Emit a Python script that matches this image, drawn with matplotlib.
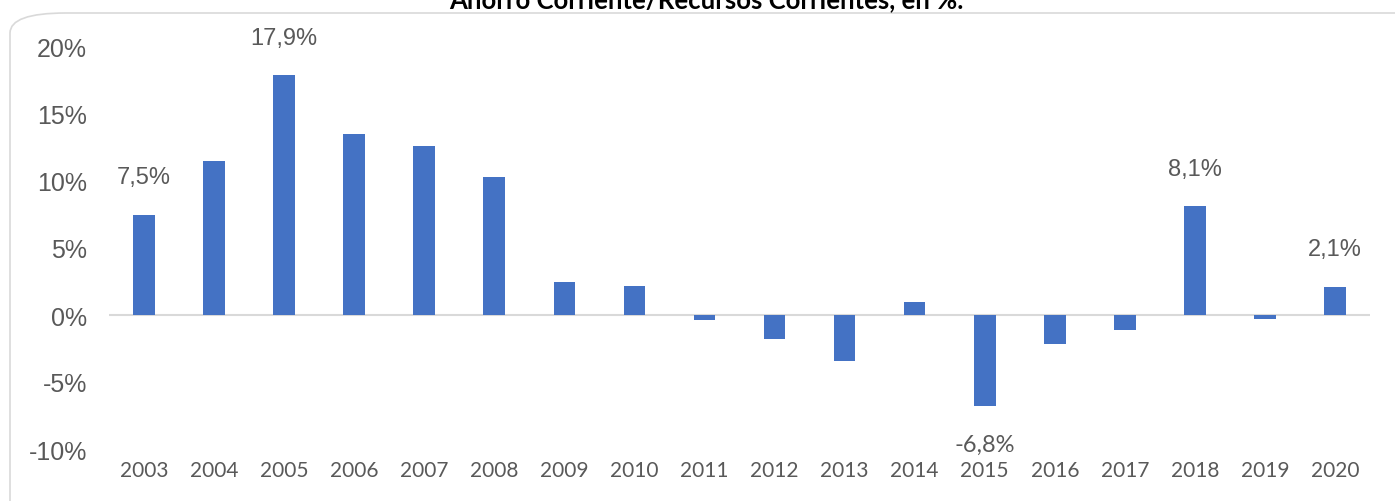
import matplotlib
matplotlib.use('Agg')
from matplotlib import pyplot as plt
from matplotlib.patches import FancyBboxPatch

years = ['2003', '2004', '2005', '2006', '2007', '2008', '2009', '2010', '2011',
         '2012', '2013', '2014', '2015', '2016', '2017', '2018', '2019', '2020']
ratio = [7.5, 11.5, 17.9, 13.5, 12.6, 10.3, 2.5, 2.2, -0.4,
         -1.8, -3.4, 1.0, -6.8, -2.2, -1.1, 8.1, -0.3, 2.1]
labelled = {'2003': '7,5%', '2005': '17,9%', '2015': '-6,8%', '2018': '8,1%', '2020': '2,1%'}
title = 'Ahorro Corriente/Recursos Corrientes, en %.'

BLUE = '#4472c4'
GREY = '#595959'

fig = plt.figure(figsize=(13.95, 5.02), dpi=100)

# rounded chart border, partly cut by the image edges
border = FancyBboxPatch((10 / 1395, -0.2), 1.2, 1.2 - 14 / 502,
                        boxstyle='round,pad=0,rounding_size=0.04',
                        transform=fig.transFigure, fill=False,
                        edgecolor='#d9d9d9', linewidth=1.2)
fig.patches.append(border)

# title is cut by the top edge in the original as well
fig.text(706 / 1395, 1 - 8 / 502, title, ha='center', va='baseline',
         fontsize=18.5, fontweight='bold', family='Lato', color='black')

ax = fig.add_axes([109 / 1395, 1 - 450 / 502, (1370 - 109) / 1395, (450 - 48) / 502])
x = range(len(years))
ax.bar(x, ratio, width=0.31, color=BLUE, zorder=3)
ax.axhline(0, color='#d9d9d9', linewidth=1.5, zorder=2)

ax.set_ylim(-10, 20)
ax.set_xlim(-0.5, len(years) - 0.5)
ax.set_yticks(range(-10, 25, 5))
ax.set_yticklabels([f'{v}%' for v in range(-10, 25, 5)], fontsize=18,
                   family='Liberation Sans', color=GREY)
ax.set_xticks(list(x))
ax.set_xticklabels(years, fontsize=15, family='Lato', color=GREY)
ax.tick_params(length=0)
ax.tick_params(axis='y', pad=16)
ax.tick_params(axis='x', pad=8)
for s in ax.spines.values():
    s.set_visible(False)

for i, (yr, v) in enumerate(zip(years, ratio)):
    if yr in labelled:
        if v >= 0:
            ax.annotate(labelled[yr], (i, v), xytext=(0, 19), textcoords='offset points',
                        ha='center', va='bottom', fontsize=17,
                        family='Liberation Sans', color=GREY)
        else:
            ax.annotate(labelled[yr], (i, v), xytext=(0, -20), textcoords='offset points',
                        ha='center', va='top', fontsize=17, family='Lato', color=GREY)

fig.savefig('out.png', dpi=100)
